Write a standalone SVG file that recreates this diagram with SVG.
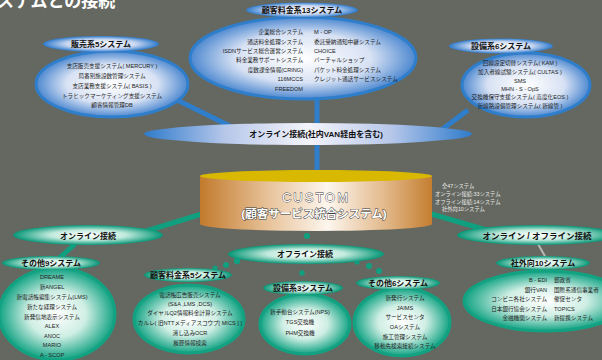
<svg xmlns="http://www.w3.org/2000/svg" width="602" height="360" viewBox="0 0 602 360">
<defs>
<radialGradient id="bBody" cx="50%" cy="50%" r="50%"><stop offset="0" stop-color="#ffffff"/><stop offset="0.6" stop-color="#d8e2f4"/><stop offset="1" stop-color="#4d88d0"/></radialGradient>
<radialGradient id="bHead" cx="50%" cy="50%" r="50%"><stop offset="0" stop-color="#ffffff"/><stop offset="0.6" stop-color="#c8d6f0"/><stop offset="1" stop-color="#2f7bcc"/></radialGradient>
<linearGradient id="bBand" x1="0" y1="0" x2="1" y2="0"><stop offset="0" stop-color="#2f7bcc"/><stop offset="0.25" stop-color="#b8c8ea"/><stop offset="0.5" stop-color="#f4f4fb"/><stop offset="0.75" stop-color="#b8c8ea"/><stop offset="1" stop-color="#2f7bcc"/></linearGradient>
<radialGradient id="gBody" cx="50%" cy="50%" r="50%"><stop offset="0" stop-color="#ffffff"/><stop offset="0.5" stop-color="#cfeee4"/><stop offset="1" stop-color="#12a383"/></radialGradient>
<radialGradient id="gHead" cx="50%" cy="50%" r="50%"><stop offset="0" stop-color="#ffffff"/><stop offset="0.5" stop-color="#c2eadd"/><stop offset="1" stop-color="#079777"/></radialGradient>
<linearGradient id="cyl" x1="0" y1="0" x2="1" y2="0"><stop offset="0" stop-color="#c27a2c"/><stop offset="0.3" stop-color="#e8c49c"/><stop offset="0.55" stop-color="#fdf6ee"/><stop offset="0.8" stop-color="#e2b88a"/><stop offset="1" stop-color="#c47e30"/></linearGradient>
<style>
.bb{fill:url(#bBody);stroke:#2f7ecb;stroke-width:3}
.bh{fill:url(#bHead)}
.gb{fill:url(#gBody);stroke:#12a282;stroke-width:3}
.gh{fill:url(#gHead)}
.bl{stroke:#2f7ecb;stroke-width:5;fill:none}
.gl{stroke:#10a080;stroke-width:5;fill:none}
.dot{fill:#10a080}
text{font-family:"Liberation Sans","Noto Sans CJK JP",sans-serif}
.h{font-size:8px;font-weight:bold;fill:#111;text-anchor:middle}
.t{font-size:5.6px;fill:#222;text-anchor:middle}
.tr{font-size:5.6px;fill:#222;text-anchor:end}
.tl{font-size:5.6px;fill:#222;text-anchor:start}
.st{font-size:5.3px;fill:#ececec}
</style>
</defs>
<rect width="602" height="360" fill="#646860"/>
<text x="-3" y="7" font-size="17" font-weight="bold" fill="#ffffff">ステムとの接続</text>

<g id="connectors">
<path class="bl" d="M177,100 L240,131"/>
<path class="bl" d="M317,95 L317,176"/>
<path class="bl" d="M468,110 L440,131"/>
<path class="gl" d="M205,213 L140,233"/>
<path class="gl" d="M428,213 L490,231"/>
<path class="gl" d="M75,244 L55,262"/>
<path d="M538,244 L546,258" stroke="#b8b8b8" stroke-width="2" fill="none"/>
<circle class="dot" cx="307" cy="236" r="3"/>
<circle class="dot" cx="302" cy="273" r="2.7"/>
<circle class="dot" cx="215" cy="268" r="2.5"/>
<circle class="dot" cx="226" cy="265" r="3"/>
<circle class="dot" cx="237" cy="261" r="3.2"/>
<circle class="dot" cx="357" cy="262" r="2.6"/>
<circle class="dot" cx="369" cy="266" r="3"/>
<circle class="dot" cx="379" cy="271" r="3"/>
</g>

<g id="sales">
<ellipse class="bb" cx="112" cy="84" rx="76" ry="33"/>
<ellipse class="bh" cx="101" cy="44" rx="58" ry="8"/>
<text class="h" x="101" y="47">販売系5システム</text>
<text class="t" x="112" y="68">支店販売支援システム( MERCURY )</text>
<text class="t" x="112" y="78">局番別施設数管理システム</text>
<text class="t" x="112" y="88">支店業務支援システム( BASIS )</text>
<text class="t" x="112" y="98">トラヒックマーケティング支援システム</text>
<text class="t" x="112" y="107">顧客情報管理DB</text>
</g>

<g id="billing13">
<ellipse class="bb" cx="303" cy="58" rx="113" ry="41"/>
<ellipse class="bh" cx="302" cy="10" rx="56" ry="7.5"/>
<text class="h" x="302" y="13">顧客料金系13システム</text>
<text class="tr" x="303" y="34">企業総合システム</text>
<text class="tr" x="303" y="44">通話料金処理システム</text>
<text class="tr" x="303" y="53">ISDNサービス総合運営システム</text>
<text class="tr" x="303" y="62">料金業務サポートシステム</text>
<text class="tr" x="303" y="72">度数課金情報(CRING)</text>
<text class="tr" x="303" y="81">116MCCS</text>
<text class="tr" x="303" y="91">FREEDOM</text>
<text class="tl" x="314" y="34">M - OP</text>
<text class="tl" x="314" y="44">委託受納通知中継システム</text>
<text class="tl" x="314" y="53">CHOICE</text>
<text class="tl" x="314" y="62">バーチャルショップ</text>
<text class="tl" x="314" y="72">パケット料金処理システム</text>
<text class="tl" x="314" y="81">クレジット通話サービスシステム</text>
</g>

<g id="facility6">
<ellipse class="bb" cx="526" cy="85" rx="64" ry="32"/>
<ellipse class="bh" cx="501" cy="46" rx="52" ry="7.5"/>
<text class="h" x="501" y="49">設備系6システム</text>
<text class="t" x="520" y="65">回線設定切替システム( KAM )</text>
<text class="t" x="520" y="74">加入者線試験システム( CULTAS )</text>
<text class="t" x="520" y="83">SMS</text>
<text class="t" x="520" y="91">MHN - S - OpS</text>
<text class="t" x="520" y="99">交換機保守支援システム( 高度化EOS )</text>
<text class="t" x="520" y="108">新線路設備管理システム( 新線管 )</text>
</g>

<g id="online-band">
<ellipse cx="308" cy="134" rx="164" ry="11" fill="url(#bBand)"/>
<text class="h" x="316" y="137">オンライン接続(社内VAN経由を含む)</text>
</g>

<g id="custom">
<path d="M200,176 L200,224 A116,7 0 0 0 432,224 L432,176 Z" fill="url(#cyl)"/>
<ellipse cx="316" cy="176" rx="116" ry="6" fill="#d8b800"/>
<text x="316" y="202" font-size="13" letter-spacing="2" fill="#ffffff" stroke="#3a3a3a" stroke-width="0.8" paint-order="stroke" text-anchor="middle">CUSTOM</text>
<text x="314" y="218" font-size="11.5" font-weight="bold" fill="#ffffff" stroke="#3a3a3a" stroke-width="0.9" paint-order="stroke" text-anchor="middle">(顧客サービス統合システム)</text>
<text class="st" x="442" y="188">全47システム</text>
<text class="st" x="435" y="196">オンライン接続:33システム</text>
<text class="st" x="435" y="204">オフライン接続:14システム</text>
<text class="st" x="442" y="211">社外向10システム</text>
</g>

<g id="online-left">
<ellipse class="gh" cx="88" cy="235" rx="75" ry="10"/>
<text class="h" x="88" y="238.5">オンライン接続</text>
</g>

<g id="online-offline">
<ellipse class="gh" cx="537" cy="235" rx="80" ry="10"/>
<text class="h" x="537" y="238.5" style="font-size:8.5px">オンライン / オフライン接続</text>
</g>

<g id="offline">
<ellipse class="gh" cx="306" cy="254" rx="78" ry="10"/>
<text class="h" x="305" y="257">オフライン接続</text>
</g>

<g id="other9">
<ellipse class="gb" cx="57" cy="314" rx="58" ry="46"/>
<ellipse class="gh" cx="51" cy="263" rx="49" ry="7"/>
<text class="h" x="51" y="266">その他9システム</text>
<text class="t" x="52" y="279">DREAME</text>
<text class="t" x="52" y="289">新ANGEL</text>
<text class="t" x="52" y="299">新電話帳編集システム(LMS)</text>
<text class="t" x="52" y="309">新たな経理システム</text>
<text class="t" x="52" y="319">新発信地表示システム</text>
<text class="t" x="52" y="328">ALEX</text>
<text class="t" x="52" y="338">ANOC</text>
<text class="t" x="52" y="347">MARIO</text>
<text class="t" x="52" y="357">A - SCOP</text>
</g>

<g id="billing5">
<ellipse class="gb" cx="189" cy="319" rx="55" ry="34"/>
<ellipse class="gh" cx="188" cy="275" rx="44" ry="7"/>
<text class="h" x="188" y="278">顧客料金系5システム</text>
<text class="t" x="190" y="297">電話帳広告販売システム</text>
<text class="t" x="190" y="306">(S&amp;A ,LMS ,DCS)</text>
<text class="t" x="190" y="315">ダイヤルQ2情報料金計算システム</text>
<text class="t" x="190" y="325">カルレ( 旧NTTメディアスコウプ[ MICS ] )</text>
<text class="t" x="190" y="335">消し込みOCR</text>
<text class="t" x="190" y="345">履歴情報検索</text>
</g>

<g id="facility3">
<ellipse class="gb" cx="305" cy="324" rx="45" ry="30"/>
<ellipse class="gh" cx="303" cy="288" rx="40" ry="7"/>
<text class="h" x="303" y="291">設備系3システム</text>
<text class="t" x="300" y="314">新手動台システム(NPS)</text>
<text class="t" x="300" y="324">TGS交換機</text>
<text class="t" x="300" y="335">PHM交換機</text>
</g>

<g id="other6">
<ellipse class="gb" cx="402" cy="322" rx="48" ry="34"/>
<ellipse class="gh" cx="398" cy="283" rx="42" ry="7"/>
<text class="h" x="398" y="286">その他6システム</text>
<text class="t" x="405" y="300">新発行システム</text>
<text class="t" x="405" y="310">JAIMS</text>
<text class="t" x="405" y="319">サービスセンタ</text>
<text class="t" x="405" y="329">OAシステム</text>
<text class="t" x="405" y="339">施工管理システム</text>
<text class="t" x="405" y="348">移動先検索接続システム</text>
</g>

<g id="external10">
<ellipse class="gb" cx="546" cy="301" rx="82" ry="30"/>
<ellipse class="gh" cx="543" cy="263" rx="47" ry="7"/>
<text class="h" x="543" y="266">社外向10システム</text>
<text class="tr" x="547" y="282">B - EDI</text>
<text class="tr" x="547" y="292">銀行VAN</text>
<text class="tr" x="547" y="301">コンビニ各社システム</text>
<text class="tr" x="547" y="311">日本銀行協会システム</text>
<text class="tr" x="547" y="320">金融機関システム</text>
<text class="tl" x="554" y="282">郵政省</text>
<text class="tl" x="554" y="292">国際系通信事業者</text>
<text class="tl" x="554" y="301">催促センタ</text>
<text class="tl" x="554" y="311">TOPICS</text>
<text class="tl" x="554" y="320">新提携システム</text>
</g>
</svg>
